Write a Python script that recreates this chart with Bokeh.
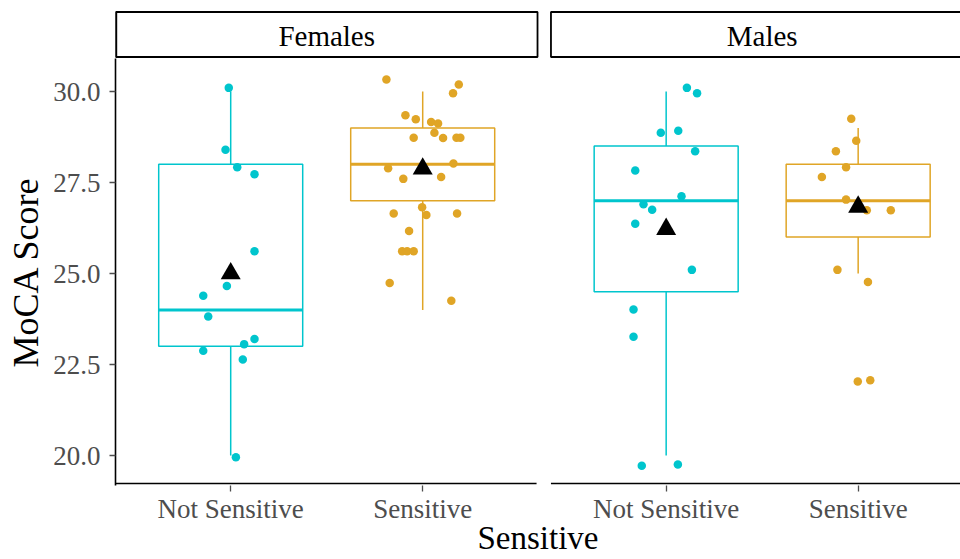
from bokeh.plotting import figure
from bokeh.layouts import column
from bokeh.models import FixedTicker, NumeralTickFormatter, ColumnDataSource, Range1d
from bokeh.embed import file_html
from bokeh.resources import INLINE
from bokeh.core.properties import value

# ---------------- data ----------------
facets = ["Females", "Males"]
groups = ["Not Sensitive", "Sensitive"]
y_ticks = [20.0, 22.5, 25.0, 27.5, 30.0]

# box statistics, order: Females/Not Sensitive, Females/Sensitive, Males/Not Sensitive, Males/Sensitive
box_facet = ["Females", "Females", "Males", "Males"]
box_group = ["Not Sensitive", "Sensitive", "Not Sensitive", "Sensitive"]
whisker_low = [20.0, 24.0, 20.0, 25.0]
q1 = [23.0, 27.0, 24.5, 26.0]
median = [24.0, 28.0, 27.0, 27.0]
q3 = [28.0, 29.0, 28.5, 28.0]
whisker_high = [30.0, 30.0, 30.0, 29.0]
means = [25.0, 27.88, 26.22, 26.83]

# jittered observations (score as plotted, horizontal jitter in category units)
f_ns_score = [30.10, 28.40, 27.92, 27.73, 25.61, 24.66, 24.39, 23.82, 23.20, 23.06, 22.88, 22.64, 19.95]
f_ns_jit = [-0.010, -0.027, 0.034, 0.124, 0.124, -0.020, -0.143, -0.117, 0.124, 0.070, -0.143, 0.063, 0.027]

f_s_score = [30.33, 30.19, 29.95, 29.35, 29.24, 29.16, 29.12, 28.87, 28.73, 28.72, 28.73, 28.73, 28.02,
             27.89, 27.60, 27.65, 26.65, 26.82, 26.61, 26.65, 26.17, 25.61, 25.61, 25.61, 24.74, 24.25]
f_s_jit = [-0.189, 0.188, 0.158, -0.090, -0.036, 0.044, 0.080, 0.061, -0.047, 0.106, 0.176, 0.196, 0.160,
           -0.180, -0.101, 0.096, -0.151, -0.003, 0.019, 0.179, -0.071, -0.107, -0.081, -0.047, -0.172, 0.149]

m_ns_score = [30.10, 29.95, 28.87, 28.92, 28.36, 27.83, 27.12, 26.90, 26.75, 26.37, 25.10, 24.01, 23.26, 19.72, 19.75]
m_ns_jit = [0.108, 0.161, -0.028, 0.063, 0.151, -0.161, 0.080, -0.118, -0.073, -0.161, 0.134, -0.170, -0.170, -0.127, 0.061]

m_s_score = [29.25, 28.65, 28.36, 27.92, 27.65, 27.03, 26.74, 26.74, 25.10, 24.77, 22.03, 22.07]
m_s_jit = [-0.036, -0.010, -0.116, -0.063, -0.189, -0.063, 0.045, 0.170, -0.108, 0.051, -0.002, 0.063]

# ---------------- layout / style constants ----------------
FACET_OFFSET = {"Females": 0.0, "Males": 2.268}
GROUP_POS = {"Not Sensitive": 1.0, "Sensitive": 2.0}
COLORS = {"Not Sensitive": "#00C5CD", "Sensitive": "#E0A526"}
FONT = "Liberation Serif"
BOX_HALF = 0.375

X0, X1 = 0.4, 4.801
Y0, Y1 = 19.176, 30.907
PANEL_BOTTOM = 19.23

x_range = Range1d(X0, X1)

def xpos(facet, group):
    return FACET_OFFSET[facet] + GROUP_POS[group]

# ---------------- strip figure (facet labels) ----------------
s = figure(width=960, height=58, x_range=x_range, y_range=(0, 58),
           output_backend="svg", toolbar_location=None,
           x_axis_location=None, y_axis_location=None,
           min_border_left=115, min_border_right=0, min_border_top=0, min_border_bottom=0)
s.outline_line_color = None
s.xgrid.visible = False
s.ygrid.visible = False
strip_left = [X0, FACET_OFFSET["Males"] + X0]
strip_right = [X0 + 2.198, FACET_OFFSET["Males"] + X0 + 2.6]
s.quad(left=strip_left, right=strip_right, bottom=[1.5, 1.5], top=[46.5, 46.5],
       fill_color="white", line_color="black", line_width=1.8)
s.segment(x0=[X0], y0=[1.5], x1=[X0], y1=[46.5], line_color="black", line_width=3.4)
s.text(x=[FACET_OFFSET[f] + 1.5 for f in facets], y=[23, 23], text=facets,
       text_font=value(FONT), text_font_size="29px", text_align="center",
       text_baseline="middle", text_color="black")

# ---------------- main panel figure ----------------
p = figure(width=960, height=501, x_range=x_range, y_range=(Y0, Y1),
           output_backend="svg", toolbar_location=None,
           min_border_left=115, min_border_right=0, min_border_top=0, min_border_bottom=74)
p.outline_line_color = None
p.xgrid.visible = False
p.ygrid.visible = False
p.background_fill_color = "white"

# panel bottom lines
p.segment(x0=[X0, FACET_OFFSET["Males"] + X0], y0=[PANEL_BOTTOM] * 2,
          x1=[X0 + 2.193, FACET_OFFSET["Males"] + X0 + 2.6], y1=[PANEL_BOTTOM] * 2,
          line_color="black", line_width=1.6)

# boxes
bx = [xpos(f, g) for f, g in zip(box_facet, box_group)]
bc = [COLORS[g] for g in box_group]
src = ColumnDataSource(dict(x=bx, left=[v - BOX_HALF for v in bx], right=[v + BOX_HALF for v in bx],
                            q1=q1, q3=q3, med=median, lo=whisker_low, hi=whisker_high,
                            mean=means, color=bc))
p.segment(x0="x", y0="q3", x1="x", y1="hi", line_color="color", line_width=1.5, source=src)
p.segment(x0="x", y0="lo", x1="x", y1="q1", line_color="color", line_width=1.5, source=src)
p.quad(left="left", right="right", bottom="q1", top="q3", fill_color="white",
       line_color="color", line_width=1.5, source=src)
p.segment(x0="left", y0="med", x1="right", y1="med", line_color="color", line_width=3, source=src)

# points
for facet, group, scores, jit in [("Females", "Not Sensitive", f_ns_score, f_ns_jit),
                                  ("Females", "Sensitive", f_s_score, f_s_jit),
                                  ("Males", "Not Sensitive", m_ns_score, m_ns_jit),
                                  ("Males", "Sensitive", m_s_score, m_s_jit)]:
    xs = [xpos(facet, group) + j for j in jit]
    p.scatter(x=xs, y=scores, size=8.5, fill_color=COLORS[group], line_color=None)

# means
p.scatter(x="x", y="mean", marker="triangle", size=20, fill_color="black", line_color=None, source=src)

# y axis
p.yaxis.ticker = FixedTicker(ticks=y_ticks)
p.yaxis.formatter = NumeralTickFormatter(format="0.0")
p.yaxis.axis_line_color = "black"
p.yaxis.axis_line_width = 1.6
p.yaxis.major_tick_line_color = "#4D4D4D"
p.yaxis.major_tick_line_width = 1.3
p.yaxis.major_tick_out = 6
p.yaxis.major_tick_in = 0
p.yaxis.minor_tick_line_color = None
p.yaxis.major_label_text_font = FONT
p.yaxis.major_label_text_font_size = "27px"
p.yaxis.major_label_text_color = "#4D4D4D"
p.yaxis.major_label_standoff = 9
p.yaxis.axis_label = "MoCA Score"
p.yaxis.axis_label_text_font = FONT
p.yaxis.axis_label_text_font_size = "36px"
p.yaxis.axis_label_text_font_style = "normal"
p.yaxis.axis_label_text_color = "black"
p.yaxis.axis_label_standoff = 4

# x axis
xt = [xpos(f, g) for f in facets for g in groups]
p.xaxis.ticker = FixedTicker(ticks=xt)
p.xaxis.major_label_overrides = {t: g for t, g in zip(xt, groups * 2)}
p.xaxis.axis_line_color = None
p.xaxis.major_tick_line_color = "#4D4D4D"
p.xaxis.major_tick_line_width = 1.3
p.xaxis.major_tick_out = 6
p.xaxis.major_tick_in = 0
p.xaxis.minor_tick_line_color = None
p.xaxis.major_label_text_font = FONT
p.xaxis.major_label_text_font_size = "27px"
p.xaxis.major_label_text_color = "#4D4D4D"
p.xaxis.major_label_standoff = 2
p.xaxis.axis_label = "Sensitive"
p.xaxis.axis_label_text_font = FONT
p.xaxis.axis_label_text_font_size = "33px"
p.xaxis.axis_label_text_font_style = "normal"
p.xaxis.axis_label_text_color = "black"
p.xaxis.axis_label_standoff = -7

layout = column(s, p, spacing=0)
open("out.html", "w").write(file_html(layout, INLINE))
